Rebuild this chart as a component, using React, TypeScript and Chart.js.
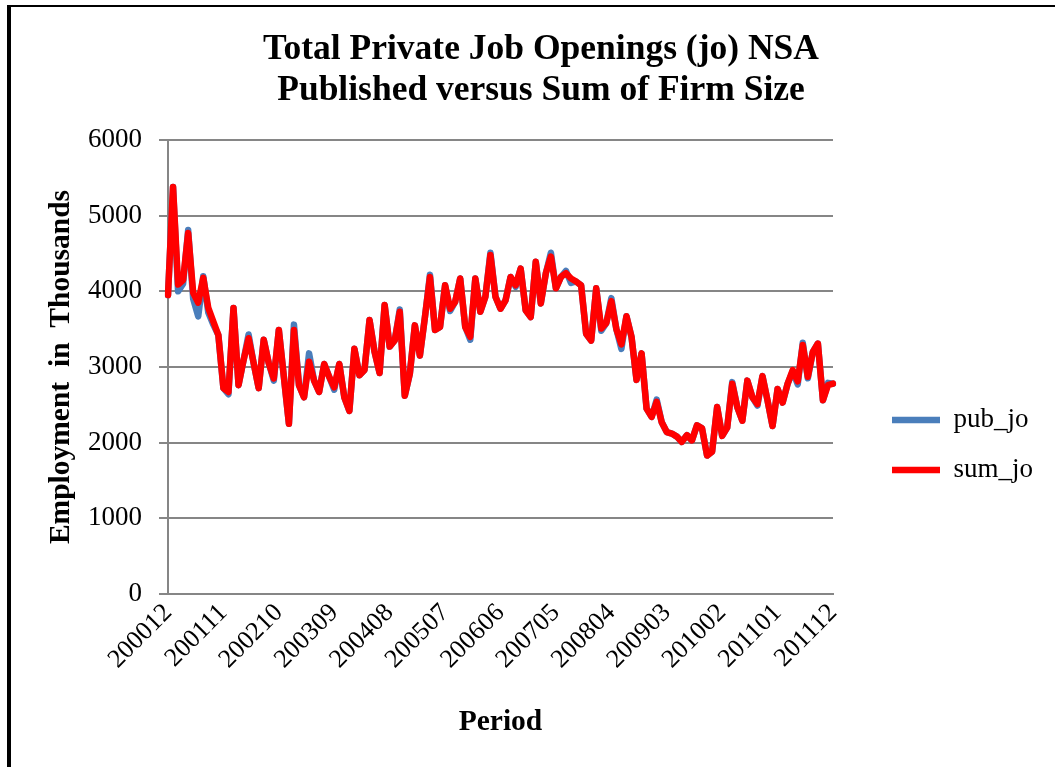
import { useEffect, useRef } from 'react';
import { Chart, registerables } from 'chart.js';

Chart.register(...registerables);

const FONT = '"Liberation Serif", "Times New Roman", serif';
const GRID = '#868686';
const BLUE = '#4A7EBB';
const RED = '#FF0000';

const TITLE_LINES = ['Total Private Job Openings (jo) NSA', 'Published versus Sum of Firm Size'];
const X_TITLE = 'Period';
const Y_TITLE = 'Employment  in  Thousands';
const SERIES_NAMES = ['pub_jo', 'sum_jo'];

const CATEGORIES = [
  '200012',
  '200101', '200102', '200103', '200104', '200105', '200106', '200107', '200108', '200109', '200110', '200111', '200112',
  '200201', '200202', '200203', '200204', '200205', '200206', '200207', '200208', '200209', '200210', '200211', '200212',
  '200301', '200302', '200303', '200304', '200305', '200306', '200307', '200308', '200309', '200310', '200311', '200312',
  '200401', '200402', '200403', '200404', '200405', '200406', '200407', '200408', '200409', '200410', '200411', '200412',
  '200501', '200502', '200503', '200504', '200505', '200506', '200507', '200508', '200509', '200510', '200511', '200512',
  '200601', '200602', '200603', '200604', '200605', '200606', '200607', '200608', '200609', '200610', '200611', '200612',
  '200701', '200702', '200703', '200704', '200705', '200706', '200707', '200708', '200709', '200710', '200711', '200712',
  '200801', '200802', '200803', '200804', '200805', '200806', '200807', '200808', '200809', '200810', '200811', '200812',
  '200901', '200902', '200903', '200904', '200905', '200906', '200907', '200908', '200909', '200910', '200911', '200912',
  '201001', '201002', '201003', '201004', '201005', '201006', '201007', '201008', '201009', '201010', '201011', '201012',
  '201101', '201102', '201103', '201104', '201105', '201106', '201107', '201108', '201109', '201110', '201111', '201112',
];

const TICK_LABELS = [
  '200012', '200111', '200210', '200309', '200408', '200507', '200606',
  '200705', '200804', '200903', '201002', '201101', '201112',
];

const PUB_JO = [
  3950,
  5380, 4000, 4100, 4810, 3900, 3670, 4200, 3720, 3560, 3420, 2720, 2640,
  3780, 2760, 3090, 3430, 3050, 2720, 3360, 3050, 2820, 3490, 2870, 2250,
  3560, 2760, 2600, 3180, 2820, 2670, 3040, 2870, 2700, 3040, 2600, 2420,
  3240, 2890, 2960, 3620, 3200, 2920, 3820, 3270, 3350, 3760, 2620, 2910,
  3550, 3150, 3660, 4220, 3490, 3530, 4080, 3740, 3860, 4170, 3530, 3360,
  4170, 3730, 3930, 4510, 3930, 3770, 3880, 4190, 4060, 4300, 3750, 3660,
  4390, 3840, 4240, 4510, 4040, 4190, 4270, 4110, 4130, 4080, 3440, 3350,
  4040, 3480, 3580, 3910, 3500, 3240, 3670, 3400, 2830, 3180, 2450, 2340,
  2570, 2270, 2140, 2120, 2080, 2010, 2100, 2030, 2230, 2190, 1830, 1880,
  2470, 2090, 2200, 2800, 2470, 2290, 2820, 2600, 2490, 2880, 2560, 2220,
  2710, 2530, 2780, 2940, 2770, 3320, 2850, 3200, 3310, 2560, 2790, 2780,
];

const SUM_JO = [
  3950,
  5380, 4090, 4150, 4770, 3980, 3850, 4180, 3780, 3600, 3420, 2720, 2670,
  3780, 2760, 3090, 3380, 3050, 2720, 3360, 3050, 2850, 3490, 2870, 2250,
  3490, 2760, 2600, 3070, 2820, 2670, 3040, 2870, 2730, 3040, 2600, 2420,
  3240, 2890, 2960, 3620, 3200, 2920, 3820, 3270, 3350, 3730, 2620, 2910,
  3550, 3150, 3660, 4190, 3490, 3530, 4080, 3770, 3860, 4170, 3530, 3400,
  4170, 3730, 3930, 4480, 3930, 3770, 3880, 4190, 4080, 4300, 3750, 3660,
  4390, 3840, 4240, 4460, 4040, 4190, 4240, 4170, 4130, 4080, 3440, 3350,
  4040, 3510, 3580, 3870, 3500, 3300, 3670, 3400, 2830, 3180, 2450, 2340,
  2540, 2270, 2140, 2120, 2080, 2010, 2100, 2030, 2230, 2190, 1830, 1880,
  2470, 2090, 2200, 2780, 2470, 2290, 2820, 2600, 2510, 2880, 2560, 2220,
  2710, 2530, 2780, 2960, 2810, 3290, 2870, 3200, 3310, 2560, 2760, 2780,
];

const Y_MIN = 0;
const Y_MAX = 6000;
const Y_STEP = 1000;

// layout (pixels)
const CANVAS_W = 1055;
const CANVAS_H = 767;
const PLOT_LEFT = 168;
const PLOT_BOTTOM = 594;
const LEGEND_W = 164;
const PAD_R = 22;
const PAD_L = 49;
const Y_TITLE_X = 61.5;
const AXIS_TITLE_SIZE = 29.5;
const AXIS_TITLE_LH = 1.2;

export default function App() {
  const canvasRef = useRef<HTMLCanvasElement | null>(null);

  useEffect(() => {
    const canvas = canvasRef.current;
    if (!canvas) return;
    const chart = new Chart(canvas, {
      type: 'line',
      data: {
        labels: CATEGORIES,
        datasets: [
          {
            label: SERIES_NAMES[0],
            data: PUB_JO,
            borderColor: BLUE,
            backgroundColor: BLUE,
            borderWidth: 6.5,
            pointRadius: 0,
            tension: 0,
            borderCapStyle: 'round',
            borderJoinStyle: 'round',
            order: 1,
          },
          {
            label: SERIES_NAMES[1],
            data: SUM_JO,
            borderColor: RED,
            backgroundColor: RED,
            borderWidth: 6.5,
            pointRadius: 0,
            tension: 0,
            borderCapStyle: 'round',
            borderJoinStyle: 'round',
            order: 0,
          },
        ],
      },
      options: {
        responsive: false,
        animation: false,
        events: [],
        layout: { padding: { left: PAD_L, right: PAD_R, top: 0, bottom: 0 } },
        plugins: {
          title: {
            display: true,
            text: TITLE_LINES,
            color: '#000',
            font: { family: FONT, size: 35.5, weight: 'bold', lineHeight: '41px' },
            padding: { top: 29.5, bottom: 28.5 },
          },
          legend: {
            display: true,
            position: 'right',
            maxWidth: LEGEND_W,
            labels: {
              color: '#000',
              font: { family: FONT, size: 27 },
              usePointStyle: true,
              pointStyle: 'line',
              pointStyleWidth: 48,
              padding: 23,
              sort: (a: any, b: any) => a.datasetIndex - b.datasetIndex,
            },
            title: {
              display: true,
              text: ' ',
              font: { family: FONT, size: 27, lineHeight: 1.2 },
              padding: { top: 90.6, bottom: 0 },
            },
          },
          tooltip: { enabled: false },
        },
        scales: {
          x: {
            type: 'category',
            offset: false,
            grid: { display: false, drawTicks: false },
            border: { display: true, color: GRID, width: 2 },
            ticks: {
              autoSkip: false,
              maxRotation: 45,
              minRotation: 45,
              padding: 13,
              color: '#000',
              font: { family: FONT, size: 26, lineHeight: 0.2 },
              callback: (_v: any, i: number) => {
                const c = CATEGORIES[i];
                return TICK_LABELS.includes(c) ? c : '';
              },
            },
            title: {
              display: true,
              text: X_TITLE,
              color: '#000',
              font: { family: FONT, size: AXIS_TITLE_SIZE, weight: 'bold', lineHeight: AXIS_TITLE_LH },
              padding: { top: 0, bottom: 27.3 },
            },
            afterFit: (s: any) => {
              s.height = CANVAS_H - PLOT_BOTTOM;
            },
          },
          y: {
            type: 'linear',
            min: Y_MIN,
            max: Y_MAX,
            ticks: {
              stepSize: Y_STEP,
              padding: 17,
              color: '#000',
              font: { family: FONT, size: 27 },
              callback: (v: any) => String(v),
            },
            grid: { color: GRID, lineWidth: 2, tickLength: 9, drawTicks: true },
            border: { display: true, color: GRID, width: 2 },
            title: {
              display: true,
              text: Y_TITLE,
              color: '#000',
              font: { family: FONT, size: AXIS_TITLE_SIZE, weight: 'bold', lineHeight: AXIS_TITLE_LH },
              padding: { top: Y_TITLE_X - PAD_L - (AXIS_TITLE_SIZE * AXIS_TITLE_LH) / 2, bottom: 0 },
            },
            afterFit: (s: any) => {
              s.width = PLOT_LEFT - PAD_L;
            },
          },
          yR: {
            type: 'linear',
            position: 'right',
            display: true,
            grid: { display: false, drawTicks: false },
            border: { display: false },
            ticks: { display: false },
            afterFit: (s: any) => {
              s.width = 36;
            },
          },
        },
      } as any,
    });
    return () => chart.destroy();
  }, []);

  return (
    <div
      style={{
        position: 'fixed',
        left: 0,
        top: 0,
        width: CANVAS_W,
        height: CANVAS_H,
        background: '#fff',
        overflow: 'hidden',
      }}
    >
      <canvas
        ref={canvasRef}
        width={CANVAS_W}
        height={CANVAS_H}
        style={{ display: 'block', width: CANVAS_W, height: CANVAS_H }}
      />
      <div
        style={{
          position: 'absolute',
          left: 7,
          top: 5,
          width: 1100,
          height: 800,
          borderLeft: '4px solid #000',
          borderTop: '2px solid #000',
          pointerEvents: 'none',
        }}
      />
    </div>
  );
}
